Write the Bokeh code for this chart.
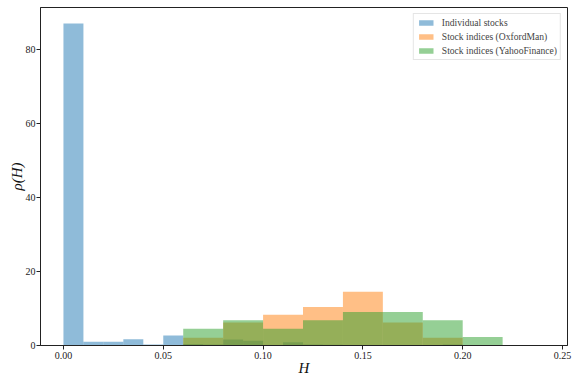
from bokeh.plotting import figure
from bokeh.models import Range1d, FixedTicker, NumeralTickFormatter
from bokeh.embed import file_html
from bokeh.resources import INLINE

# Histogram data (density)
blue_left = [0.00, 0.01, 0.02, 0.03, 0.04, 0.05, 0.06, 0.07, 0.08, 0.09,
             0.10, 0.11, 0.12, 0.13, 0.14, 0.15, 0.16, 0.17, 0.18, 0.19,
             0.20, 0.21, 0.22, 0.23]
blue_density = [87.2, 1.0, 1.0, 1.7, 0.3, 2.7, 0.4, 0.3, 1.6, 1.3,
                0.0, 0.9, 0.3, 0.2, 0.1, 0.1, 0.1, 0.1, 0.1, 0.3,
                0.0, 0.0, 0.0, 0.0]
blue_width = 0.01

orange_left = [0.06, 0.08, 0.10, 0.12, 0.14, 0.16, 0.18]
orange_density = [2.08, 6.25, 8.33, 10.42, 14.58, 6.25, 2.08]
orange_width = 0.02

green_left = [0.06, 0.08, 0.10, 0.12, 0.14, 0.16, 0.18, 0.20]
green_density = [4.55, 6.82, 4.55, 6.82, 9.09, 9.09, 6.82, 2.27]
green_width = 0.02

x_ticks = [0.00, 0.05, 0.10, 0.15, 0.20, 0.25]
y_ticks = [0, 20, 40, 60, 80]
x_label = "H"
y_label = "ρ(H)"

series = [
    ("Individual stocks", blue_left, blue_density, blue_width, "#1f77b4"),
    ("Stock indices (OxfordMan)", orange_left, orange_density, orange_width, "#ff7f0e"),
    ("Stock indices (YahooFinance)", green_left, green_density, green_width, "#2ca02c"),
]

p = figure(width=573, height=378, output_backend="svg", toolbar_location=None,
           x_range=Range1d(-0.0115, 0.2525), y_range=Range1d(0, 91.5),
           min_border_left=40, min_border_right=6, min_border_top=7, min_border_bottom=31)

for label, left, dens, w, color in series:
    right = [l + w for l in left]
    bottom = [0] * len(left)
    p.quad(left=left, right=right, top=dens, bottom=bottom,
           fill_color=color, fill_alpha=0.5, line_color=None,
           legend_label=label)

FONT = "Liberation Serif"
p.xgrid.visible = False
p.ygrid.visible = False
p.outline_line_color = "#222222"
p.outline_line_width = 1
p.background_fill_color = "white"
p.border_fill_color = "white"

for ax in (p.xaxis[0], p.yaxis[0]):
    ax.axis_line_color = "#222222"
    ax.major_tick_line_color = "#222222"
    ax.major_tick_out = 4
    ax.major_tick_in = 0
    ax.minor_tick_line_color = None
    ax.major_label_text_font = FONT
    ax.major_label_text_font_size = "10px"
    ax.major_label_text_color = "#222222"
    ax.major_label_standoff = 2
    ax.axis_label_text_font = FONT
    ax.axis_label_text_font_style = "italic"
    ax.axis_label_text_font_size = "15px"
    ax.axis_label_text_color = "#111111"

p.yaxis[0].major_label_standoff = 1
p.xaxis[0].axis_label_standoff = -2
p.yaxis[0].axis_label_standoff = -2
p.xaxis[0].ticker = FixedTicker(ticks=x_ticks)
p.xaxis[0].formatter = NumeralTickFormatter(format="0.00")
p.yaxis[0].ticker = FixedTicker(ticks=y_ticks)
p.xaxis[0].axis_label = x_label
p.yaxis[0].axis_label = y_label

lg = p.legend[0]
lg.location = "top_right"
lg.margin = 6
lg.padding = 3
lg.spacing = 3
lg.label_text_font = FONT
lg.label_text_font_size = "9.6px"
lg.label_height = 10
lg.glyph_height = 7
lg.glyph_width = 18
lg.label_standoff = 7
lg.border_line_color = "#cccccc"
lg.border_line_width = 1
lg.background_fill_alpha = 0.8

open("out.html", "w").write(file_html(p, INLINE))
